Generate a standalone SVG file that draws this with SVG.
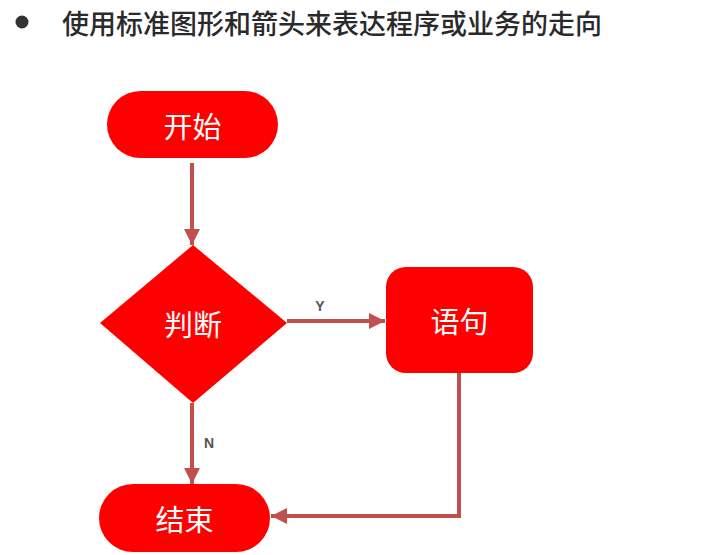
<svg xmlns="http://www.w3.org/2000/svg" width="713" height="555" viewBox="0 0 713 555">
<style>
.shape{fill:#ff0000}
.lbl{fill:#ffffff;font-family:"Noto Sans CJK SC","Noto Sans",sans-serif;font-size:29px;text-anchor:middle;dominant-baseline:central}
.edge{fill:none;stroke:#c0504d;stroke-width:4}
.el{fill:#555555;font-family:"Liberation Sans",Arial,sans-serif;font-size:14px;font-weight:bold;text-anchor:middle;dominant-baseline:central}
.title{fill:#2a2a2a;font-family:"Noto Sans CJK SC","Noto Sans",sans-serif;font-size:27px;font-weight:500;dominant-baseline:central}
</style>
<defs>
<marker id="ah" viewBox="0 0 10 10" refX="10" refY="5" markerWidth="4" markerHeight="4" orient="auto" markerUnits="strokeWidth">
<path d="M0,0 L10,5 L0,10 z" fill="#c0504d"/>
</marker>
</defs>
<rect width="713" height="555" fill="#ffffff"/>
<g id="title">
<circle cx="22" cy="22" r="6.5" fill="#333333"/>
<text class="title" x="62" y="22">使用标准图形和箭头来表达程序或业务的走向</text>
</g>
<g id="connectors">
<path class="edge" d="M192,163 L192,245" marker-end="url(#ah)"/>
<path class="edge" d="M287,321 L385,321" marker-end="url(#ah)"/>
<path class="edge" d="M192,403 L192,484" marker-end="url(#ah)"/>
<path class="edge" d="M459,373 L459,516 L271,516" marker-end="url(#ah)"/>
<text class="el" x="320" y="306">Y</text>
<text class="el" x="209" y="443">N</text>
</g>
<g id="start">
<rect class="shape" x="107" y="91" width="171" height="67" rx="33.5"/>
<text class="lbl" x="192.5" y="124.5">开始</text>
</g>
<g id="decision">
<polygon class="shape" points="193,245 287,323 193,403 100,323"/>
<text class="lbl" x="193" y="323">判断</text>
</g>
<g id="statement">
<rect class="shape" x="386" y="267" width="147" height="106" rx="20"/>
<text class="lbl" x="459.5" y="320">语句</text>
</g>
<g id="end">
<rect class="shape" x="99" y="484" width="171" height="68" rx="34"/>
<text class="lbl" x="184.5" y="518">结束</text>
</g>
</svg>
